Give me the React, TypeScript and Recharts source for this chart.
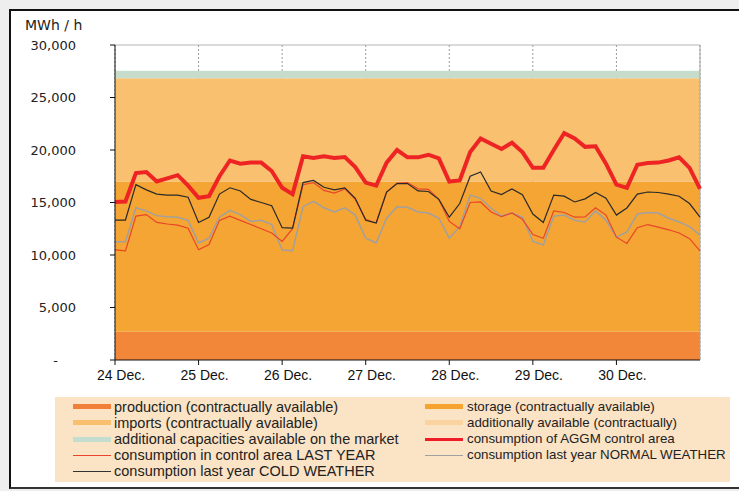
import React from "react";
import {
  ComposedChart,
  Area,
  Line,
  XAxis,
  YAxis,
  CartesianGrid,
  ReferenceLine,
} from "recharts";

// hourly data sampled every 3 h, 24 Dec 00:00 .. 31 Dec 00:00
const DAY_LABELS = ["24 Dec.", "25 Dec.", "26 Dec.", "27 Dec.", "28 Dec.", "29 Dec.", "30 Dec."];
const Y_TICKS = [0, 5000, 10000, 15000, 20000, 25000, 30000];

const AGGM = [
  15050, 15100, 17800, 17900, 17000, 17300, 17600, 16600, 15450, 15600, 17500, 19000, 18700, 18800, 18800,
  18000, 16400, 15800, 19400, 19250, 19400, 19250, 19330, 18380, 16900, 16600, 18800, 20000,
  19300, 19300, 19550, 19200, 17000, 17100, 19800, 21100, 20600, 20100, 20700, 19800, 18300, 18300,
  20000, 21600, 21100, 20300, 20350, 18700, 16700, 16400, 18600, 18760, 18800, 19000, 19300, 18300, 16300,
];
const COLD = [
  13330, 13330, 16700, 16200, 15800, 15700, 15700, 15500, 13100, 13600, 15800, 16400, 16100, 15300, 15000,
  14700, 12600, 12570, 16900, 17100, 16450, 16200, 16400, 15400, 13300, 13050, 16000, 16800,
  16800, 16100, 16050, 15300, 13600, 14900, 17500, 17900, 16100, 15750, 16300, 15750, 13900, 13100,
  15700, 15600, 15050, 15350, 15950, 15400, 13800, 14480, 15800, 16000, 15950, 15800, 15600, 14900, 13600,
];
const NORMAL = [
  11270, 11270, 14500, 14200, 13750, 13650, 13600, 13300, 11150, 11600, 13600, 14250, 13850, 13200, 13300,
  12900, 10480, 10400, 14600, 15100, 14500, 14100, 14500, 13800, 11600, 11150, 13500, 14600,
  14550, 14100, 14000, 13500, 11600, 12700, 15700, 15400, 14450, 13700, 14000, 13600, 11300, 10950,
  13700, 13800, 13300, 13150, 14200, 13300, 11700, 12200, 13900, 14050, 14000, 13500, 13150, 12700, 11900,
];
const LAST_YEAR = [
  10480, 10400, 13700, 13850, 13100, 12950, 12850, 12550, 10500, 11000, 13300, 13700, 13300, 12900, 12500,
  12100, 11300, 12500, 16700, 16900, 16150, 15900, 16300, 15300, 13400, 13050, 16000, 16850,
  16900, 16300, 16250, 15300, 13200, 12500, 15000, 15050, 14100, 13650, 14000, 13400, 11950, 11600,
  14200, 14050, 13600, 13620, 14500, 13800, 11700, 11100, 12600, 12900, 12650, 12400, 12100, 11550, 10400,
];

// capacity bands (stacked), MWh/h
const BAND_KEYS = ["production", "storage", "imports", "additional", "market"];
const BAND_SIZES = [2700, 14300, 9830, 0, 720];
const BAND_COLORS = ["#F2873A", "#F5A533", "#F8C06F", "#FAD3A0", "#C6DDCB"];

const data = AGGM.map((v, i) => {
  const row: Record<string, number> = {
    t: i,
    aggm: v,
    cold: COLD[i],
    normal: NORMAL[i],
    lastYear: LAST_YEAR[i],
  };
  BAND_KEYS.forEach((k, j) => (row[k] = BAND_SIZES[j]));
  return row;
});

const fmt = (v: number) => (v === 0 ? "-" : v.toLocaleString("en-US"));

const YTick = (props: any) => {
  const v = props.payload.value;
  return (
    <text
      x={v === 0 ? 58 : 76}
      y={props.y}
      dy={4.6}
      textAnchor="end"
      fontFamily="DejaVu Sans"
      fontSize={13}
      fill="#222"
    >
      {fmt(v)}
    </text>
  );
};

const XTick = (props: any) => (
  <text
    x={props.x + 6}
    y={props.y}
    dy={13}
    textAnchor="middle"
    fontFamily="Liberation Sans"
    fontSize={14}
    fill="#111"
  >
    {DAY_LABELS[props.payload.value / 8]}
  </text>
);

type Item = { label: string; color: string; kind: "fill" | "line"; h?: number };

const LEFT_ITEMS: Item[] = [
  { label: "production (contractually available)", color: "#F0803A", kind: "fill" },
  { label: "imports (contractually available)", color: "#F9BF6E", kind: "fill" },
  { label: "additional capacities available on the market", color: "#C3DDD0", kind: "fill" },
  { label: "consumption in control area LAST YEAR", color: "#E8452A", kind: "line", h: 1 },
  { label: "consumption last year COLD WEATHER", color: "#333", kind: "line", h: 1 },
];
const RIGHT_ITEMS: Item[] = [
  { label: "storage (contractually available)", color: "#F5A52F", kind: "fill" },
  { label: "additionally available (contractually)", color: "#FAD3A0", kind: "fill" },
  { label: "consumption of AGGM control area", color: "#EE1C25", kind: "line", h: 3 },
  { label: "consumption last year NORMAL WEATHER", color: "#A0A0A0", kind: "line", h: 1 },
];

function LegendColumn({
  items,
  swatchLeft,
  textLeft,
  fontSize,
}: {
  items: Item[];
  swatchLeft: number;
  textLeft: number;
  fontSize: number;
}) {
  return (
    <>
      {items.map((it, i) => {
        const top = 1.6 + i * 16.2;
        const h = it.kind === "fill" ? 5 : it.h ?? 1;
        return (
          <React.Fragment key={it.label}>
            <div
              style={{
                position: "absolute",
                left: swatchLeft,
                top: top + 8.1 - h / 2,
                width: 38,
                height: h,
                background: it.color,
              }}
            />
            <div
              style={{
                position: "absolute",
                left: textLeft,
                top,
                lineHeight: "16.2px",
                fontSize,
                fontFamily: "Liberation Sans",
                color: "#222",
                whiteSpace: "nowrap",
              }}
            >
              {it.label}
            </div>
          </React.Fragment>
        );
      })}
    </>
  );
}

export default function App() {
  return (
    <div
      style={{
        position: "absolute",
        left: 0,
        top: 0,
        width: 739,
        height: 491,
        background: "#eeeeee",
        overflow: "hidden",
      }}
    >
      <div
        style={{
          position: "absolute",
          left: 9,
          top: 9,
          width: 740,
          height: 480,
          boxSizing: "border-box",
          borderLeft: "2px solid #111",
          borderTop: "2px solid #111",
          borderBottom: "2px solid #333",
          background: "#fff",
        }}
      />
      <div
        style={{
          position: "absolute",
          left: 25,
          top: 17,
          fontFamily: "DejaVu Sans",
          fontSize: 14,
          color: "#222",
        }}
      >
        MWh / h
      </div>
      <div style={{ position: "absolute", left: 0, top: 0 }}>
        <ComposedChart width={739} height={390} data={data} margin={{ top: 45, right: 39, bottom: 0, left: 0 }}>
          <CartesianGrid horizontal={false} stroke="#999" strokeDasharray="2 2" />
          <XAxis
            dataKey="t"
            type="number"
            domain={[0, 56]}
            ticks={[0, 8, 16, 24, 32, 40, 48]}
            height={30}
            tickSize={5}
            stroke="#111"
            tick={<XTick />}
            interval={0}
          />
          <YAxis
            domain={[0, 30000]}
            ticks={Y_TICKS}
            width={115}
            tickSize={5}
            stroke="#111"
            tick={<YTick />}
            interval={0}
          />
          {BAND_KEYS.map((k, j) => (
            <Area
              key={k}
              dataKey={k}
              stackId="cap"
              type="linear"
              stroke="none"
              fill={BAND_COLORS[j]}
              fillOpacity={1}
              isAnimationActive={false}
              activeDot={false}
            />
          ))}
          <ReferenceLine y={30000} stroke="#b5b5b5" />
          <ReferenceLine x={56} stroke="#a5a5a5" />
          <Line dataKey="normal" stroke="#A0A0A0" strokeWidth={1.5} dot={false} isAnimationActive={false} />
          <Line dataKey="lastYear" stroke="#E8452A" strokeWidth={1.2} dot={false} isAnimationActive={false} />
          <Line dataKey="cold" stroke="#2a2a2a" strokeWidth={1.2} dot={false} isAnimationActive={false} />
          <Line dataKey="aggm" stroke="#EE2424" strokeWidth={4} dot={false} isAnimationActive={false} />
        </ComposedChart>
      </div>
      <div
        style={{
          position: "absolute",
          left: 55,
          top: 397,
          width: 675,
          height: 85,
          background: "#FBE3C5",
        }}
      >
        <LegendColumn items={LEFT_ITEMS} swatchLeft={18} textLeft={59} fontSize={14.5} />
        <LegendColumn items={RIGHT_ITEMS} swatchLeft={370} textLeft={412} fontSize={13.3} />
      </div>
    </div>
  );
}
